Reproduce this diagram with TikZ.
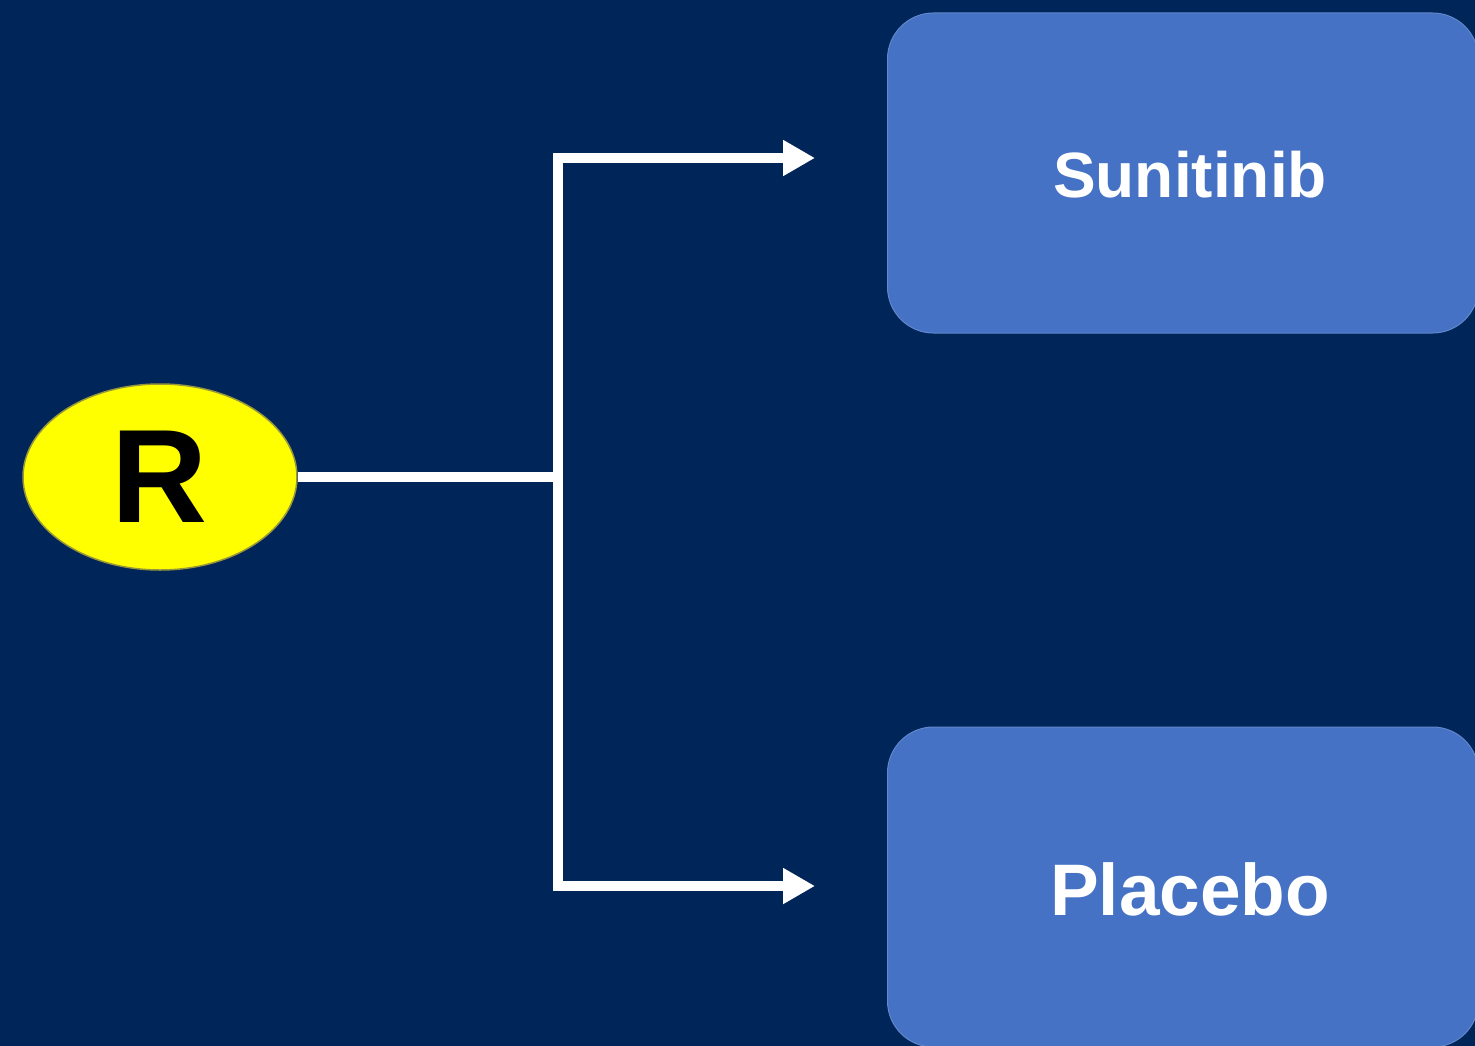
\documentclass[tikz,border=0pt]{standalone}
\usepackage{fontspec}
\setmainfont{Liberation Sans}
\usetikzlibrary{shapes.geometric,arrows.meta}

\definecolor{navy}{RGB}{0,37,88}
\definecolor{armblue}{RGB}{69,114,196}
\definecolor{randyellow}{RGB}{255,255,0}
\definecolor{randedge}{RGB}{150,150,60}

\tikzset{
  armbox/.style={rectangle, rounded corners=46pt, fill=armblue, draw=armblue!85!white,
    line width=1pt, minimum width=591pt, minimum height=320pt, inner sep=0pt},
  armtext/.style={text=white, xshift=7pt, yshift=-2pt, font=\bfseries\fontsize{#1}{80}\selectfont},
  randnode/.style={ellipse, fill=randyellow, draw=randedge, line width=1.5pt,
    minimum width=274pt, minimum height=186pt, inner sep=0pt,
    font=\bfseries\fontsize{133}{140}\selectfont},
  link/.style={draw=white, line width=10pt},
  arrowlink/.style={link, -{Triangle[length=32pt,width=34pt]}}
}

\begin{document}
\begin{tikzpicture}[x=1pt, y=-1pt]
  % background
  \fill[navy] (0,0) rectangle (1475,1046);
  \useasboundingbox (0,0) rectangle (1475,1046);

  % randomisation and the two arms
  \node[randnode] (R) at (160,477) {R};
  \node[armbox, label={[armtext=64]center:Sunitinib}] (sun) at (1183,173) {};
  \node[armbox, label={[armtext=73]center:Placebo}] (pla) at (1183,887) {};

  % branching point and arrow ends
  \coordinate (split) at (558,477);
  \coordinate (topend) at (815,158);
  \coordinate (botend) at (815,886);

  % connectors
  \draw[link] (R.east) -- (split);
  \draw[arrowlink] (split) |- (topend);
  \draw[arrowlink] (split) |- (botend);
\end{tikzpicture}
\end{document}
